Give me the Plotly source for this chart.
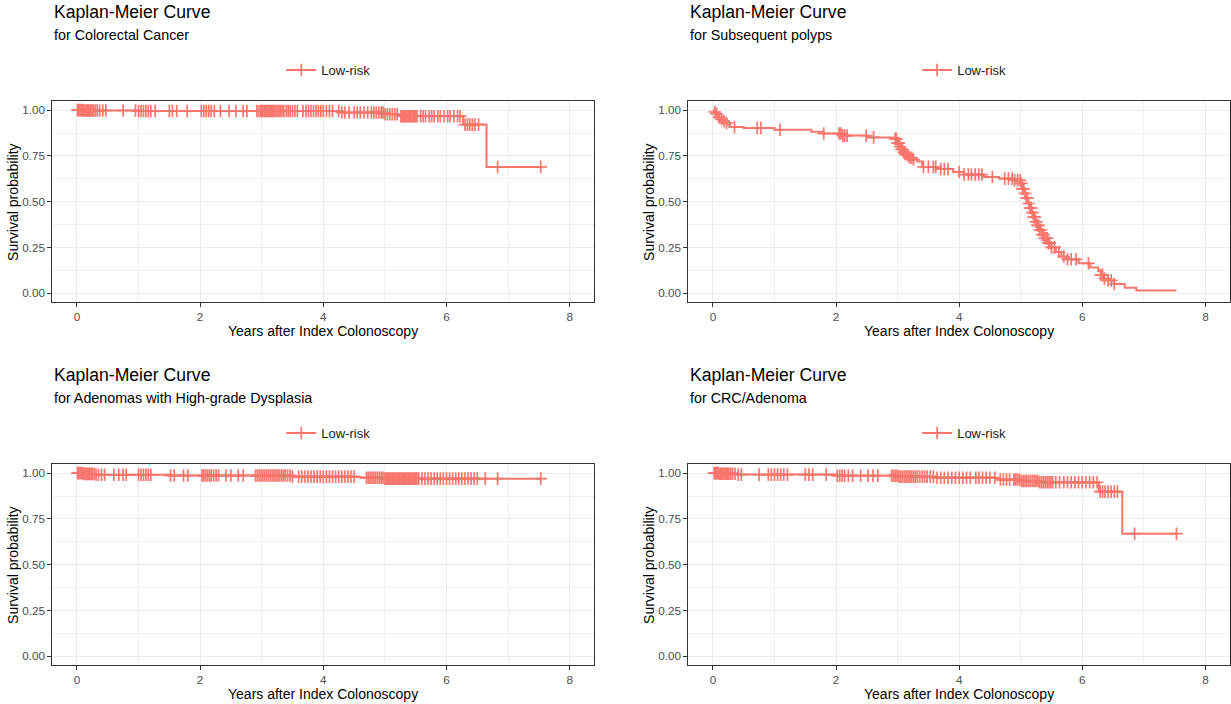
import numpy as np
import plotly.graph_objects as go

RED = "#F8766D"
FONT = "Liberation Sans, Arial, sans-serif"

# ---------------- text ----------------
main_title = "Kaplan-Meier Curve"
subtitles = ["for Colorectal Cancer", "for Subsequent polyps",
             "for Adenomas with High-grade Dysplasia", "for CRC/Adenoma"]
legend_label = "Low-risk"
x_title = "Years after Index Colonoscopy"
y_title = "Survival probability"

x_ticks = [0, 2, 4, 6, 8]
x_minor = [1, 3, 5, 7]
y_ticks = [0, 0.25, 0.5, 0.75, 1.0]
y_ticklabels = ["0.00", "0.25", "0.50", "0.75", "1.00"]
y_minor = [0.125, 0.375, 0.625, 0.875]

# ---------------- Colorectal Cancer ----------------
crc_time = [0, 0.1, 1.0, 4.3, 5.0, 5.25, 6.27, 6.65, 7.53]
crc_surv = [1.0, 0.998, 0.995, 0.987, 0.978, 0.967, 0.921, 0.690, 0.690]
crc_cens = [0.01, 0.03, 0.05, 0.07, 0.09, 0.11, 0.13, 0.15, 0.17, 0.19, 0.21, 0.23, 0.25,
            0.27, 0.30, 0.33, 0.37, 0.42, 0.47, 0.75, 0.95, 1.0, 1.04, 1.08, 1.12, 1.16,
            1.2, 1.27, 1.5, 1.55, 1.62, 1.79, 2.02, 2.06, 2.1, 2.14, 2.18, 2.23, 2.33,
            2.47, 2.58, 2.7, 2.76, 2.92, 2.95, 2.98, 3.0, 3.02, 3.04, 3.06, 3.08, 3.1,
            3.12, 3.14, 3.16, 3.18, 3.2, 3.22, 3.25, 3.28, 3.3, 3.33, 3.36, 3.4, 3.43,
            3.46, 3.5, 3.54, 3.58, 3.67, 3.72, 3.76, 3.8, 3.84, 3.88, 3.92, 3.96, 4.0,
            4.05, 4.1, 4.15, 4.25, 4.3, 4.35, 4.42, 4.5, 4.55, 4.6, 4.66, 4.72, 4.78,
            4.82, 4.86, 4.9, 4.94, 4.97, 5.0, 5.04, 5.08, 5.12, 5.16, 5.2, 5.26, 5.28,
            5.3, 5.32, 5.34, 5.36, 5.38, 5.4, 5.42, 5.44, 5.46, 5.48, 5.5, 5.52, 5.58,
            5.62, 5.66, 5.72, 5.76, 5.8, 5.86, 5.9, 5.96, 6.02, 6.06, 6.12, 6.18, 6.22,
            6.3, 6.34, 6.38, 6.42, 6.46, 6.52, 6.83, 7.53]

# ---------------- Subsequent polyps ----------------
sp_time = [0, 0.02, 0.05, 0.08, 0.1, 0.13, 0.16, 0.2, 0.24, 0.28, 0.5, 1.0, 1.6, 1.8,
           2.1, 2.5, 2.95, 3.0, 3.03, 3.06, 3.09, 3.12, 3.16, 3.2, 3.25, 3.32, 3.4, 3.64,
           3.9, 4.08, 4.4, 4.65, 4.9, 5.0, 5.03, 5.06, 5.09, 5.12, 5.15, 5.18, 5.21,
           5.24, 5.27, 5.31, 5.35, 5.39, 5.44, 5.5, 5.57, 5.66, 5.76, 5.94, 6.13, 6.26,
           6.3, 6.34, 6.4, 6.51, 6.69, 6.88, 7.53]
sp_surv = [1.0, 0.99, 0.98, 0.97, 0.96, 0.95, 0.94, 0.93, 0.92, 0.908, 0.903, 0.893,
           0.882, 0.872, 0.861, 0.851, 0.843, 0.82, 0.80, 0.785, 0.77, 0.76, 0.75, 0.74,
           0.73, 0.72, 0.69, 0.678, 0.662, 0.648, 0.635, 0.626, 0.616, 0.60, 0.57, 0.545,
           0.52, 0.49, 0.465, 0.44, 0.415, 0.39, 0.37, 0.345, 0.32, 0.30, 0.275, 0.25,
           0.225, 0.20, 0.185, 0.163, 0.14, 0.12, 0.10, 0.08, 0.07, 0.05, 0.03, 0.015,
           0.015]
sp_cens = [0.03, 0.06, 0.1, 0.14, 0.18, 0.22, 0.35, 0.72, 0.78, 1.09, 1.8, 2.05, 2.08,
           2.11, 2.14, 2.18, 2.49, 2.61, 2.96, 2.98, 3.0, 3.02, 3.04, 3.06, 3.08, 3.1,
           3.12, 3.14, 3.17, 3.2, 3.23, 3.26, 3.42, 3.5, 3.58, 3.62, 3.7, 3.76, 3.82,
           4.0, 4.08, 4.15, 4.2, 4.26, 4.32, 4.37, 4.54, 4.74, 4.8, 4.86, 4.9, 4.95,
           4.99, 5.01, 5.03, 5.05, 5.07, 5.09, 5.11, 5.13, 5.15, 5.17, 5.19, 5.21, 5.23,
           5.25, 5.27, 5.29, 5.31, 5.33, 5.35, 5.37, 5.39, 5.41, 5.43, 5.45, 5.47, 5.5,
           5.55, 5.62, 5.7, 5.76, 5.82, 5.9, 6.1, 6.3, 6.33, 6.36, 6.42, 6.47, 6.52]

# ---------------- Adenomas with High-grade Dysplasia ----------------
hg_time = [0, 0.1, 0.3, 1.5, 3.5, 4.6, 5.0, 7.53]
hg_surv = [1.0, 0.996, 0.991, 0.987, 0.981, 0.975, 0.970, 0.970]
hg_cens = [0.01, 0.03, 0.05, 0.07, 0.09, 0.11, 0.13, 0.15, 0.17, 0.19, 0.21, 0.23, 0.25,
           0.28, 0.31, 0.35, 0.4, 0.45, 0.6, 0.68, 0.75, 0.8, 1.0, 1.04, 1.08, 1.12, 1.16,
           1.2, 1.52, 1.58, 1.73, 1.8, 2.03, 2.06, 2.09, 2.12, 2.15, 2.18, 2.22, 2.26,
           2.3, 2.42, 2.5, 2.62, 2.7, 2.9, 2.93, 2.96, 2.99, 3.02, 3.05, 3.08, 3.11,
           3.14, 3.17, 3.2, 3.23, 3.26, 3.29, 3.32, 3.35, 3.38, 3.42, 3.46, 3.5, 3.6,
           3.65, 3.7, 3.75, 3.8, 3.85, 3.9, 3.95, 4.0, 4.05, 4.1, 4.15, 4.2, 4.25, 4.3,
           4.35, 4.4, 4.45, 4.5, 4.7, 4.73, 4.76, 4.79, 4.82, 4.85, 4.88, 4.91, 4.94,
           4.97, 5.0, 5.02, 5.04, 5.06, 5.08, 5.1, 5.12, 5.14, 5.16, 5.18, 5.2, 5.22,
           5.24, 5.26, 5.28, 5.3, 5.32, 5.34, 5.36, 5.38, 5.4, 5.42, 5.44, 5.46, 5.48,
           5.5, 5.52, 5.55, 5.6, 5.65, 5.7, 5.75, 5.8, 5.85, 5.9, 5.95, 6.0, 6.05, 6.1,
           6.15, 6.2, 6.25, 6.3, 6.35, 6.4, 6.45, 6.5, 6.63, 6.83, 7.53]

# ---------------- CRC/Adenoma ----------------
ca_time = [0, 0.1, 0.4, 2.0, 3.0, 3.6, 4.6, 5.0, 5.3, 6.27, 6.65, 7.53]
ca_surv = [1.0, 0.997, 0.992, 0.986, 0.981, 0.975, 0.965, 0.957, 0.950, 0.899, 0.669, 0.669]
ca_cens = [0.02, 0.04, 0.06, 0.08, 0.1, 0.12, 0.14, 0.16, 0.18, 0.2, 0.22, 0.24, 0.26,
           0.29, 0.32, 0.36, 0.41, 0.46, 0.75, 0.9, 0.95, 1.0, 1.05, 1.1, 1.15, 1.21,
           1.5, 1.56, 1.62, 1.84, 2.02, 2.06, 2.1, 2.14, 2.2, 2.27, 2.4, 2.52, 2.6,
           2.68, 2.9, 2.93, 2.96, 2.99, 3.02, 3.05, 3.08, 3.11, 3.14, 3.17, 3.2, 3.23,
           3.26, 3.29, 3.32, 3.36, 3.4, 3.44, 3.48, 3.53, 3.58, 3.64, 3.7, 3.76, 3.82,
           3.88, 3.94, 4.0, 4.06, 4.12, 4.18, 4.27, 4.32, 4.38, 4.44, 4.5, 4.58, 4.67,
           4.72, 4.77, 4.82, 4.89, 4.92, 4.95, 4.98, 5.01, 5.04, 5.07, 5.1, 5.13, 5.16,
           5.19, 5.22, 5.25, 5.28, 5.31, 5.34, 5.37, 5.4, 5.43, 5.46, 5.49, 5.52, 5.57,
           5.63, 5.7, 5.76, 5.82, 5.88, 5.94, 6.0, 6.06, 6.12, 6.18, 6.24, 6.29, 6.33,
           6.37, 6.42, 6.47, 6.52, 6.57, 6.85, 7.53]

panels = [
    (crc_time, crc_surv, crc_cens),
    (sp_time, sp_surv, sp_cens),
    (hg_time, hg_surv, hg_cens),
    (ca_time, ca_surv, ca_cens),
]

W, H = 1231, 704
# panel boxes in pixels: (left, right, top, bottom)
boxes = [(52.3, 594.3, 101.0, 302.3), (688.3, 1230.0, 101.0, 302.3),
         (52.3, 594.3, 464.0, 665.3), (688.3, 1230.0, 464.0, 665.3)]


def px_x(v):
    return v / W


def px_y(v):
    return 1 - v / H


def step_lookup(times, survs, t):
    times = np.asarray(times)
    survs = np.asarray(survs)
    idx = np.searchsorted(times, np.asarray(t), side="right") - 1
    idx = np.clip(idx, 0, len(survs) - 1)
    return survs[idx]


fig = go.Figure()
annotations = []
layout_axes = {}

for i, ((tt, ss, cc), box) in enumerate(zip(panels, boxes)):
    n = i + 1
    xa = "x" if n == 1 else f"x{n}"
    ya = "y" if n == 1 else f"y{n}"
    lg = "legend" if n == 1 else f"legend{n}"
    l, r, t, b = box

    fig.add_trace(go.Scatter(x=tt, y=ss, mode="lines", line=dict(color=RED, width=2, shape="hv"),
                             xaxis=xa, yaxis=ya, showlegend=False, hoverinfo="skip"))
    fig.add_trace(go.Scatter(x=cc, y=step_lookup(tt, ss, cc), mode="markers",
                             marker=dict(symbol="cross-thin", size=9, color=RED,
                                         line=dict(color=RED, width=1.7)),
                             xaxis=xa, yaxis=ya, showlegend=False, hoverinfo="skip"))
    fig.add_trace(go.Scatter(x=[None], y=[None], mode="lines+markers", name=legend_label,
                             line=dict(color=RED, width=2),
                             marker=dict(symbol="cross-thin", size=9, color=RED,
                                         line=dict(color=RED, width=1.7)),
                             xaxis=xa, yaxis=ya, showlegend=True, legend=lg))

    axis_common = dict(showline=True, mirror=True, linecolor="#333333", linewidth=1,
                       ticks="outside", ticklen=4, tickcolor="#333333", tickwidth=1,
                       tickfont=dict(size=11.7, color="#4D4D4D", family=FONT),
                       showgrid=True, gridcolor="#EBEBEB", gridwidth=1, zeroline=False)
    layout_axes["xaxis" if n == 1 else f"xaxis{n}"] = dict(
        axis_common, domain=[px_x(l), px_x(r)], range=[-0.4, 8.4], tickvals=x_ticks,
        anchor=ya,
        minor=dict(tickvals=x_minor, showgrid=True, gridcolor="#F0F0F0", gridwidth=1, ticks=""))
    layout_axes["yaxis" if n == 1 else f"yaxis{n}"] = dict(
        axis_common, domain=[px_y(b), px_y(t)], range=[-0.05, 1.05], tickvals=y_ticks,
        ticktext=y_ticklabels, anchor=xa,
        minor=dict(tickvals=y_minor, showgrid=True, gridcolor="#F0F0F0", gridwidth=1, ticks=""))

    layout_axes[lg] = dict(x=px_x((l + r) / 2 + 5), xanchor="center", y=px_y(t - 31),
                           yanchor="middle", orientation="h", bgcolor="rgba(0,0,0,0)",
                           font=dict(size=13, color="#1A1A1A", family=FONT),
                           itemwidth=30, tracegroupgap=0)

    # titles
    annotations.append(dict(text=main_title, x=px_x(l), y=px_y(t - 89), xref="paper",
                            yref="paper", xanchor="left", yanchor="middle", showarrow=False,
                            font=dict(size=17.6, color="#000000", family=FONT)))
    annotations.append(dict(text=subtitles[i], x=px_x(l), y=px_y(t - 66), xref="paper",
                            yref="paper", xanchor="left", yanchor="middle", showarrow=False,
                            font=dict(size=14.3, color="#000000", family=FONT)))
    # axis titles
    annotations.append(dict(text=x_title, x=px_x((l + r) / 2), y=px_y(b + 29), xref="paper",
                            yref="paper", xanchor="center", yanchor="middle", showarrow=False,
                            font=dict(size=14, color="#000000", family=FONT)))
    annotations.append(dict(text=y_title, x=px_x(l - 40), y=px_y((t + b) / 2), xref="paper",
                            yref="paper", xanchor="center", yanchor="middle", showarrow=False,
                            textangle=-90,
                            font=dict(size=14, color="#000000", family=FONT)))

fig.update_layout(
    width=W, height=H,
    margin=dict(l=0, r=0, t=0, b=0),
    paper_bgcolor="white", plot_bgcolor="white",
    font=dict(family=FONT),
    annotations=annotations,
    **layout_axes,
)

fig.write_html("out.html", config={"displayModeBar": False},
               post_script="document.body.style.margin='0';document.body.style.overflow='hidden';")
